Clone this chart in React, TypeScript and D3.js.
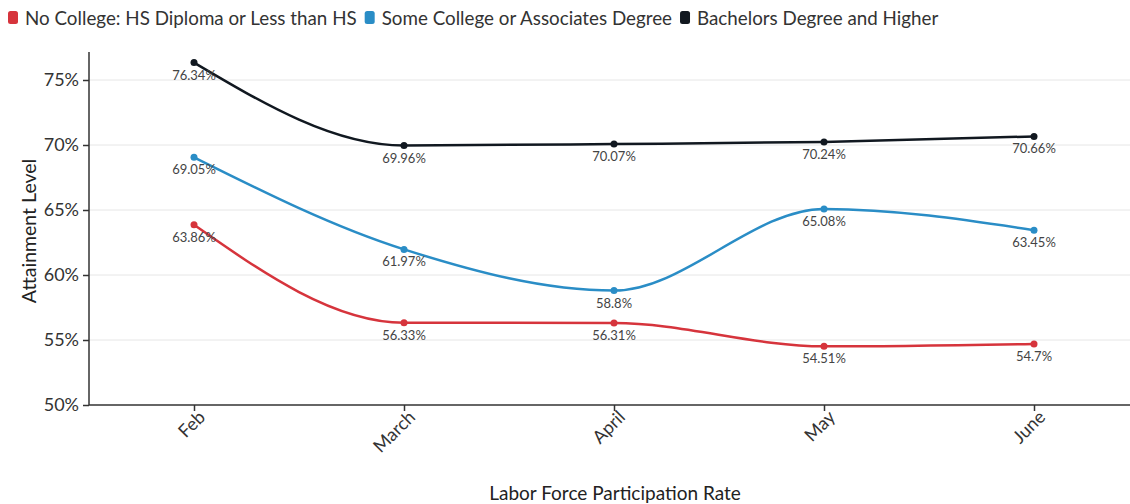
import { useEffect, useRef } from 'react';
import * as d3 from 'd3';

const months = ['Feb', 'March', 'April', 'May', 'June'];
const noCollege = [63.86, 56.33, 56.31, 54.51, 54.7];
const someCollege = [69.05, 61.97, 58.8, 65.08, 63.45];
const bachelors = [76.34, 69.96, 70.07, 70.24, 70.66];
const yTicks = [50, 55, 60, 65, 70, 75];

const seriesNames = [
  'No College: HS Diploma or Less than HS',
  'Some College or Associates Degree',
  'Bachelors Degree and Higher',
];
const seriesColors = ['#d6343c', '#2a8dc6', '#111820'];

const FONT = 'Lato, "Noto Sans", sans-serif';

export default function App() {
  const ref = useRef<SVGSVGElement | null>(null);

  useEffect(() => {
    if (!ref.current) return;
    const svg = d3.select(ref.current);
    svg.selectAll('*').remove();

    const W = 1130;
    const left = 89;
    const top = 80;
    const bottom = 405;

    const x = d3.scalePoint<string>().domain(months).range([left, left + 1050]).padding(0.5);
    const y = d3.scaleLinear().domain([50, 75]).range([bottom, top]);

    // grid
    svg.append('g')
      .selectAll('line')
      .data(yTicks.slice(1))
      .enter()
      .append('line')
      .attr('x1', left)
      .attr('x2', W)
      .attr('y1', d => y(d))
      .attr('y2', d => y(d))
      .attr('stroke', '#e6e6e6')
      .attr('stroke-width', 1);

    // y axis
    const yAxis = svg.append('g')
      .attr('transform', `translate(${left},0)`)
      .call(d3.axisLeft(y).tickValues(yTicks).tickFormat(d => `${d}%`).tickSize(6).tickSizeOuter(0));
    yAxis.select('.domain').attr('stroke', '#333').attr('stroke-width', 1.5)
      .attr('d', `M0,${bottom}V${top - 28}`);
    yAxis.selectAll('.tick line').attr('stroke', '#333').attr('stroke-width', 1.5);
    yAxis.selectAll('.tick text')
      .attr('fill', '#333')
      .style('font-family', FONT)
      .style('font-size', '18px')
      .attr('x', -10);

    // x axis
    const xAxis = svg.append('g')
      .attr('transform', `translate(0,${bottom})`)
      .call(d3.axisBottom(x).tickSize(6).tickSizeOuter(0));
    xAxis.select('.domain').attr('stroke', '#333').attr('stroke-width', 1.5)
      .attr('d', `M${left},0H${W}`);
    xAxis.selectAll('.tick line').attr('stroke', '#333').attr('stroke-width', 1.5);
    xAxis.selectAll('.tick text')
      .attr('fill', '#333')
      .style('font-family', FONT)
      .style('font-size', '18px')
      .style('text-anchor', 'end')
      .attr('x', -1)
      .attr('y', 5)
      .attr('dy', '0.71em')
      .attr('transform', 'rotate(-45)');

    // axis titles
    svg.append('text')
      .attr('transform', `translate(36,231) rotate(-90)`)
      .attr('text-anchor', 'middle')
      .attr('fill', '#222')
      .style('font-family', FONT)
      .style('font-size', '19.5px')
      .text('Attainment Level');

    svg.append('text')
      .attr('x', 615)
      .attr('y', 500)
      .attr('text-anchor', 'middle')
      .attr('fill', '#222')
      .style('font-family', FONT)
      .style('font-size', '19px')
      .text('Labor Force Participation Rate');

    // lines
    const allSeries = [noCollege, someCollege, bachelors];
    const line = d3.line<number>()
      .x((_, i) => x(months[i]) as number)
      .y(d => y(d))
      .curve(d3.curveMonotoneX);

    allSeries.forEach((vals, si) => {
      const g = svg.append('g');
      g.append('path')
        .datum(vals)
        .attr('d', line)
        .attr('fill', 'none')
        .attr('stroke', seriesColors[si])
        .attr('stroke-width', 2.5);
      g.selectAll('circle')
        .data(vals)
        .enter()
        .append('circle')
        .attr('cx', (_, i) => x(months[i]) as number)
        .attr('cy', d => y(d))
        .attr('r', 3.5)
        .attr('fill', seriesColors[si]);
      g.selectAll('text')
        .data(vals)
        .enter()
        .append('text')
        .attr('x', (_, i) => x(months[i]) as number)
        .attr('y', d => y(d) + 17)
        .attr('text-anchor', 'middle')
        .attr('fill', '#444')
        .style('font-family', FONT)
        .style('font-size', '13px')
        .text(d => `${d}%`);
    });

    // legend
    const legend = svg.append('g').attr('transform', 'translate(8,18)');
    let lx = 0;
    seriesNames.forEach((name, i) => {
      legend.append('rect')
        .attr('x', lx)
        .attr('y', -7)
        .attr('width', 10)
        .attr('height', 13)
        .attr('rx', 2.5)
        .attr('fill', seriesColors[i]);
      const t = legend.append('text')
        .attr('x', lx + 17)
        .attr('y', 0)
        .attr('dy', '0.35em')
        .attr('fill', '#333')
        .style('font-family', FONT)
        .style('font-size', '18.8px')
        .text(name);
      const tw = (t.node() as SVGTextElement).getComputedTextLength();
      lx += 17 + tw + 8;
    });
  }, []);

  return (
    <svg
      ref={ref}
      width={1130}
      height={504}
      style={{ position: 'absolute', left: 0, top: 0, background: '#fff' }}
    />
  );
}
